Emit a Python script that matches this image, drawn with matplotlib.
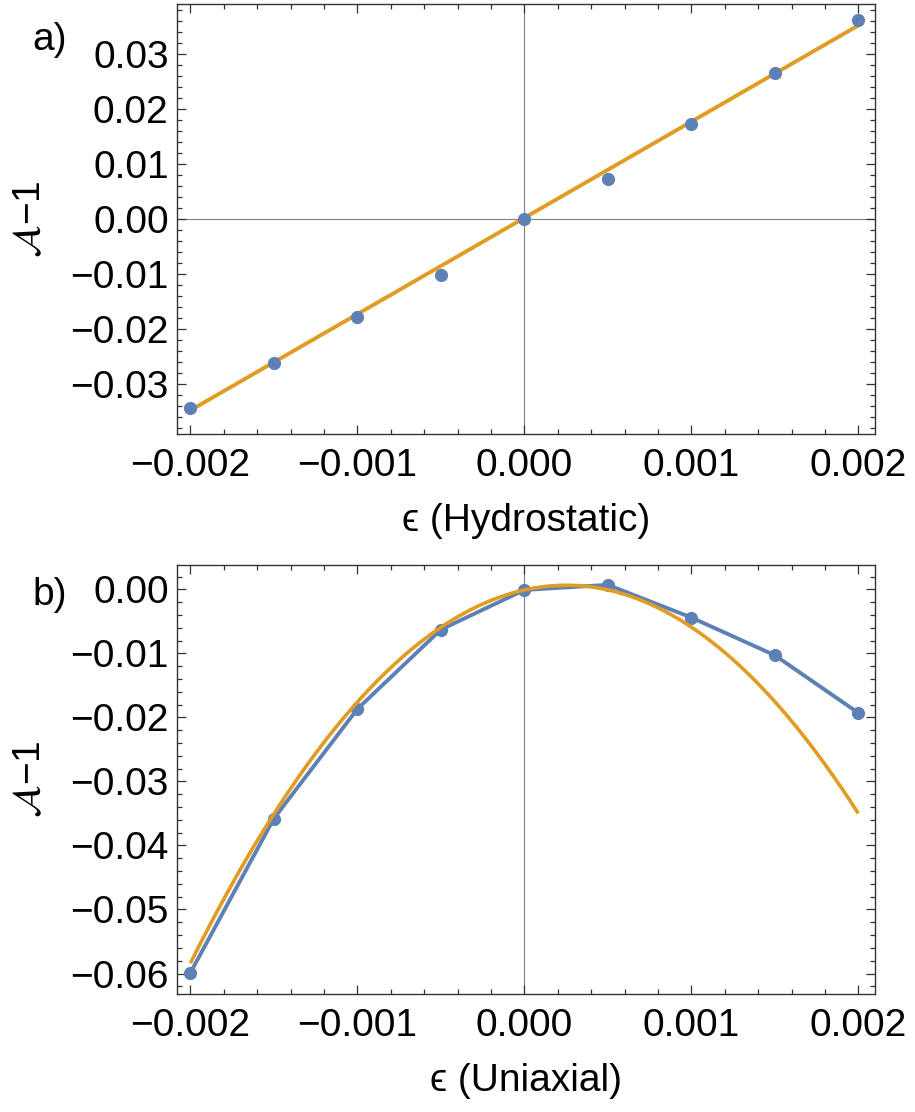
import numpy as np
import matplotlib
matplotlib.use("Agg")
import matplotlib.pyplot as plt
from matplotlib.ticker import FixedLocator, MultipleLocator, FixedFormatter

# ---------------- data ----------------
strain = [-0.002, -0.0015, -0.001, -0.0005, 0.0, 0.0005, 0.001, 0.0015, 0.002]
hydro_vals = [-0.0344, -0.0261, -0.0178, -0.0101, 0.0, 0.0073, 0.0173, 0.0265, 0.0361]
uni_vals = [-0.0599, -0.0358, -0.0187, -0.0063, -0.0001, 0.0007, -0.0044, -0.0103, -0.0193]

# fitted curves (polynomial coefficients, highest power first)
hydro_fit = [17.5, 0.0002]
uni_fit = [-11650.0, 5.85, -0.0001]

x_ticks = [-0.002, -0.001, 0.0, 0.001, 0.002]
x_ticklabels = ["\u22120.002", "\u22120.001", "0.000", "0.001", "0.002"]
hydro_yticks = [-0.03, -0.02, -0.01, 0.0, 0.01, 0.02, 0.03]
hydro_yticklabels = ["\u22120.03", "\u22120.02", "\u22120.01", "0.00", "0.01", "0.02", "0.03"]
uni_yticks = [-0.06, -0.05, -0.04, -0.03, -0.02, -0.01, 0.0]
uni_yticklabels = ["\u22120.06", "\u22120.05", "\u22120.04", "\u22120.03", "\u22120.02", "\u22120.01", "0.00"]

panel_labels = ["a)", "b)"]
xlabels = ["\u03f5 (Hydrostatic)", "\u03f5 (Uniaxial)"]

# ---------------- style ----------------
BLUE = "#5E81B5"
ORANGE = "#E19C24"
FRAME = "#333333"
AXLINE = "#808080"
FS = 28
plt.rcParams["font.family"] = ["Liberation Sans", "DejaVu Sans"]
plt.rcParams["mathtext.fontset"] = "stix"

W, H = 915, 1112
fig = plt.figure(figsize=(W / 100, H / 100), dpi=100)


def px_axes(left, top, right, bottom):
    return fig.add_axes([left / W, 1 - bottom / H, (right - left) / W, (bottom - top) / H])


ax1 = px_axes(177, 4, 875, 434)
ax2 = px_axes(177, 565, 875, 994)

xfit = np.linspace(strain[0], strain[-1], 300)


def style(ax, yticks, yticklabels, ylim):
    ax.set_xlim(-0.00208, 0.0021)
    ax.set_ylim(*ylim)
    ax.xaxis.set_major_locator(FixedLocator(x_ticks))
    ax.xaxis.set_major_formatter(FixedFormatter(x_ticklabels))
    ax.xaxis.set_minor_locator(MultipleLocator(0.0002))
    ax.yaxis.set_major_locator(FixedLocator(yticks))
    ax.yaxis.set_major_formatter(FixedFormatter(yticklabels))
    ax.yaxis.set_minor_locator(MultipleLocator(0.002))
    ax.tick_params(which="both", direction="in", top=True, right=True,
                   color=FRAME, width=0.9)
    ax.tick_params(which="major", length=6.5, labelsize=FS)
    ax.tick_params(which="minor", length=3.5)
    ax.tick_params(axis="x", which="major", pad=10)
    ax.tick_params(axis="y", which="major", pad=6)
    for s in ax.spines.values():
        s.set_color(FRAME)
        s.set_linewidth(1.0)
    ax.set_ylabel(r"$\mathcal{A}$" + "\u22121", fontsize=FS, labelpad=16)


# ---- panel a ----
ax1.axhline(0, color=AXLINE, lw=0.8, zorder=1)
ax1.axvline(0, color=AXLINE, lw=0.8, zorder=1)
ax1.plot(xfit, np.polyval(hydro_fit, xfit), color=ORANGE, lw=2.8, zorder=2,
         solid_capstyle="butt")
ax1.plot(strain, hydro_vals, "o", color=BLUE, ms=9.5, mec="none", zorder=3)
style(ax1, hydro_yticks, hydro_yticklabels, (-0.0391, 0.0391))
ax1.set_xlabel(xlabels[0], fontsize=FS, labelpad=14)

# ---- panel b ----
ax2.axvline(0, color=AXLINE, lw=0.8, zorder=1)
ax2.plot(strain, uni_vals, "-o", color=BLUE, lw=2.8, ms=9.5, mec="none", zorder=2)
ax2.plot(xfit, np.polyval(uni_fit, xfit), color=ORANGE, lw=2.6, zorder=3,
         solid_capstyle="butt")
style(ax2, uni_yticks, uni_yticklabels, (-0.0632, 0.0038))
ax2.set_xlabel(xlabels[1], fontsize=FS, labelpad=14)

fig.text(32 / W, 1 - 40 / H, panel_labels[0], fontsize=FS, ha="left", va="center")
fig.text(32 / W, 1 - 595 / H, panel_labels[1], fontsize=FS, ha="left", va="center")

fig.savefig("out.png", dpi=100)
